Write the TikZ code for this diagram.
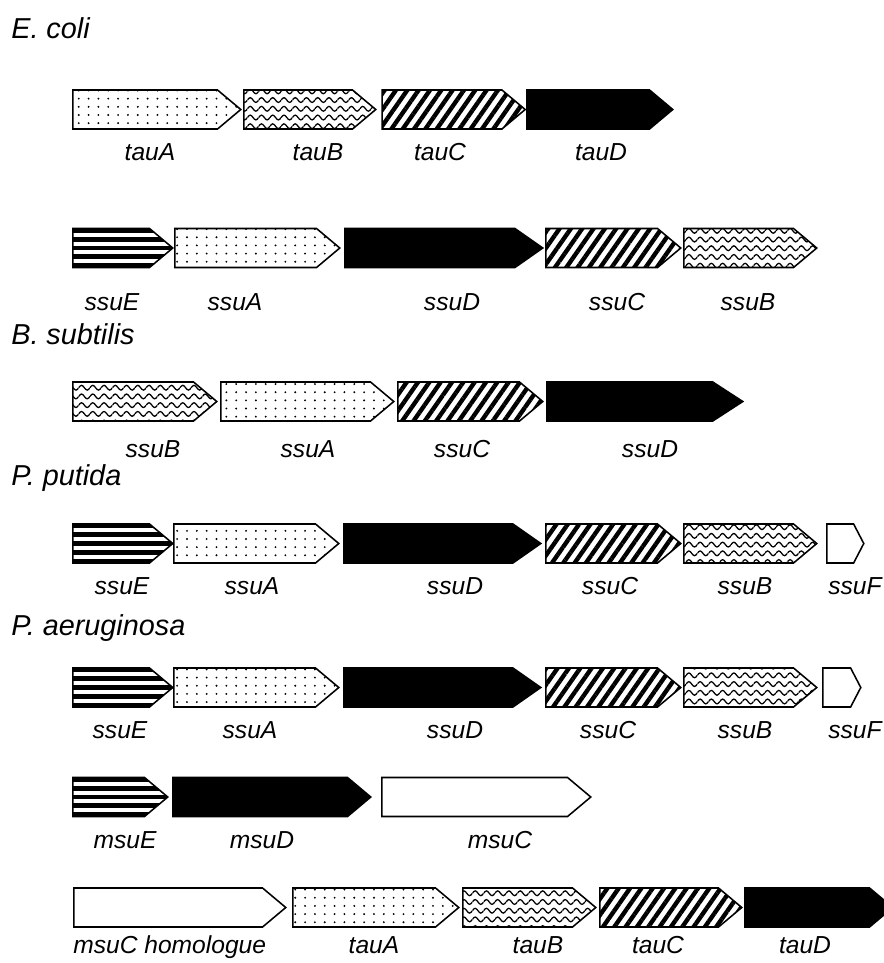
\documentclass[tikz,border=0pt]{standalone}
\usepackage{fontspec}
\setmainfont{Liberation Sans}
\usetikzlibrary{shapes.symbols, patterns.meta}

\tikzdeclarepattern{
  name=sparsedots,
  type=uncolored,
  bounding box={(-1pt,-1pt) and (1pt,1pt)},
  tile size={(7pt,5.8pt)},
  code={\fill (0pt,0pt) circle (0.75pt);}
}
\tikzdeclarepattern{
  name=wavelines,
  type=uncolored,
  bounding box={(0pt,-2.2pt) and (8pt,2.2pt)},
  tile size={(8pt,6.2pt)},
  code={\draw[line width=0.9pt] (0pt,0pt) sin (2pt,1.7pt) cos (4pt,0pt) sin (6pt,-1.7pt) cos (8pt,0pt);}
}

\tikzstyle{gene} = [signal, signal to=east, draw=black, line width=1.1pt, inner sep=0pt, minimum height=9.75mm, anchor=west, signal pointer angle=80]
\tikzstyle{dotbox} = [gene, fill=white, pattern=sparsedots]
\tikzstyle{wavebox} = [gene, fill=white, pattern=wavelines]
\tikzstyle{slantbox} = [gene, fill=white, pattern={Lines[angle=55, distance=6.6pt, line width=3.1pt]}]
\tikzstyle{fullbox} = [gene, fill=black]
\tikzstyle{openbox} = [gene, fill=white]
\tikzstyle{stripebox} = [gene, fill=black, path picture={
    \foreach \k in {-1.5,-0.5,0.5,1.5}
      \draw[white, line width=1mm] ([yshift=\k*2.18mm]path picture bounding box.west) -- ([yshift=\k*2.18mm]path picture bounding box.east);}]
\tikzstyle{lbl} = [font=\itshape\fontsize{17.5}{20}\selectfont, anchor=base, inner sep=0pt]
\tikzstyle{species} = [font=\itshape\fontsize{20.5}{24}\selectfont, anchor=base west, inner sep=0pt]

\begin{document}
\begin{tikzpicture}[x=0.25mm, y=-0.25mm]
\useasboundingbox (0,0) rectangle (884,963);

% E. coli
\node (s1) [species] at (11,38) {E. coli};

\node (a1) [dotbox, minimum width=42mm] at (72,109.5) {};
\node (a2) [wavebox, minimum width=33mm] at (243,109.5) {};
\node (a3) [slantbox, minimum width=35.75mm] at (380,109.5) {};
\node (a4) [fullbox, minimum width=36.5mm] at (526,109.5) {};
\node (la1) [lbl] at (150,160) {tauA};
\node (la2) [lbl] at (318,160) {tauB};
\node (la3) [lbl] at (440,160) {tauC};
\node (la4) [lbl] at (601,160) {tauD};

\node (b1) [stripebox, minimum width=25mm] at (72,248) {};
\node (b2) [dotbox, minimum width=41.25mm] at (174,248) {};
\node (b3) [fullbox, minimum width=49.5mm, signal pointer angle=70] at (344,248) {};
\node (b4) [slantbox, minimum width=33.75mm] at (545,248) {};
\node (b5) [wavebox, minimum width=33.25mm] at (683,248) {};
\node (lb1) [lbl] at (112,310) {ssuE};
\node (lb2) [lbl] at (235,310) {ssuA};
\node (lb3) [lbl] at (452,310) {ssuD};
\node (lb4) [lbl] at (617,310) {ssuC};
\node (lb5) [lbl] at (748,310) {ssuB};

% B. subtilis
\node (s2) [species] at (11,344) {B. subtilis};

\node (c1) [wavebox, minimum width=36mm] at (72,401.5) {};
\node (c2) [dotbox, minimum width=43.25mm] at (220,401.5) {};
\node (c3) [slantbox, minimum width=36.25mm] at (397,401.5) {};
\node (c4) [fullbox, minimum width=49mm, signal pointer angle=66] at (546,401.5) {};
\node (lc1) [lbl] at (153,457) {ssuB};
\node (lc2) [lbl] at (308,457) {ssuA};
\node (lc3) [lbl] at (462,457) {ssuC};
\node (lc4) [lbl] at (650,457) {ssuD};

% P. putida
\node (s3) [species] at (11,485) {P. putida};

\node (d1) [stripebox, minimum width=25mm] at (72,543.5) {};
\node (d2) [dotbox, minimum width=41.25mm] at (173,543.5) {};
\node (d3) [fullbox, minimum width=49.25mm, signal pointer angle=70] at (343,543.5) {};
\node (d4) [slantbox, minimum width=33.75mm] at (545,543.5) {};
\node (d5) [wavebox, minimum width=33.25mm] at (683,543.5) {};
\node (d6) [openbox, minimum width=9.25mm, signal pointer angle=125] at (826,543.5) {};
\node (ld1) [lbl] at (122,594) {ssuE};
\node (ld2) [lbl] at (252,594) {ssuA};
\node (ld3) [lbl] at (455,594) {ssuD};
\node (ld4) [lbl] at (610,594) {ssuC};
\node (ld5) [lbl] at (745,594) {ssuB};
\node (ld6) [lbl] at (855,594) {ssuF};

% P. aeruginosa
\node (s4) [species] at (11,635) {P. aeruginosa};

\node (e1) [stripebox, minimum width=25mm] at (72,687.5) {};
\node (e2) [dotbox, minimum width=41.25mm] at (173,687.5) {};
\node (e3) [fullbox, minimum width=49.25mm, signal pointer angle=70] at (343,687.5) {};
\node (e4) [slantbox, minimum width=33.75mm] at (545,687.5) {};
\node (e5) [wavebox, minimum width=33.25mm] at (683,687.5) {};
\node (e6) [openbox, minimum width=9.5mm, signal pointer angle=125] at (822,687.5) {};
\node (le1) [lbl] at (120,738) {ssuE};
\node (le2) [lbl] at (250,738) {ssuA};
\node (le3) [lbl] at (455,738) {ssuD};
\node (le4) [lbl] at (608,738) {ssuC};
\node (le5) [lbl] at (745,738) {ssuB};
\node (le6) [lbl] at (855,738) {ssuF};

\node (f1) [stripebox, minimum width=23.75mm] at (72,797) {};
\node (f2) [fullbox, minimum width=49.5mm] at (172,797) {};
\node (f3) [openbox, minimum width=52.25mm] at (381,797) {};
\node (lf1) [lbl] at (125,848) {msuE};
\node (lf2) [lbl] at (262,848) {msuD};
\node (lf3) [lbl] at (500,848) {msuC};

\node (g1) [openbox, minimum width=53mm] at (73,907.5) {};
\node (g2) [dotbox, minimum width=41.5mm] at (292,907.5) {};
\node (g3) [wavebox, minimum width=33.25mm] at (462,907.5) {};
\node (g4) [slantbox, minimum width=35.5mm] at (599,907.5) {};
\node (g5) [fullbox, minimum width=37mm] at (744,907.5) {};
\node (lg1) [lbl, anchor=base west] at (73,953) {msuC homologue};
\node (lg2) [lbl] at (374,953) {tauA};
\node (lg3) [lbl] at (538,953) {tauB};
\node (lg4) [lbl] at (658,953) {tauC};
\node (lg5) [lbl] at (805,953) {tauD};

\end{tikzpicture}
\end{document}
